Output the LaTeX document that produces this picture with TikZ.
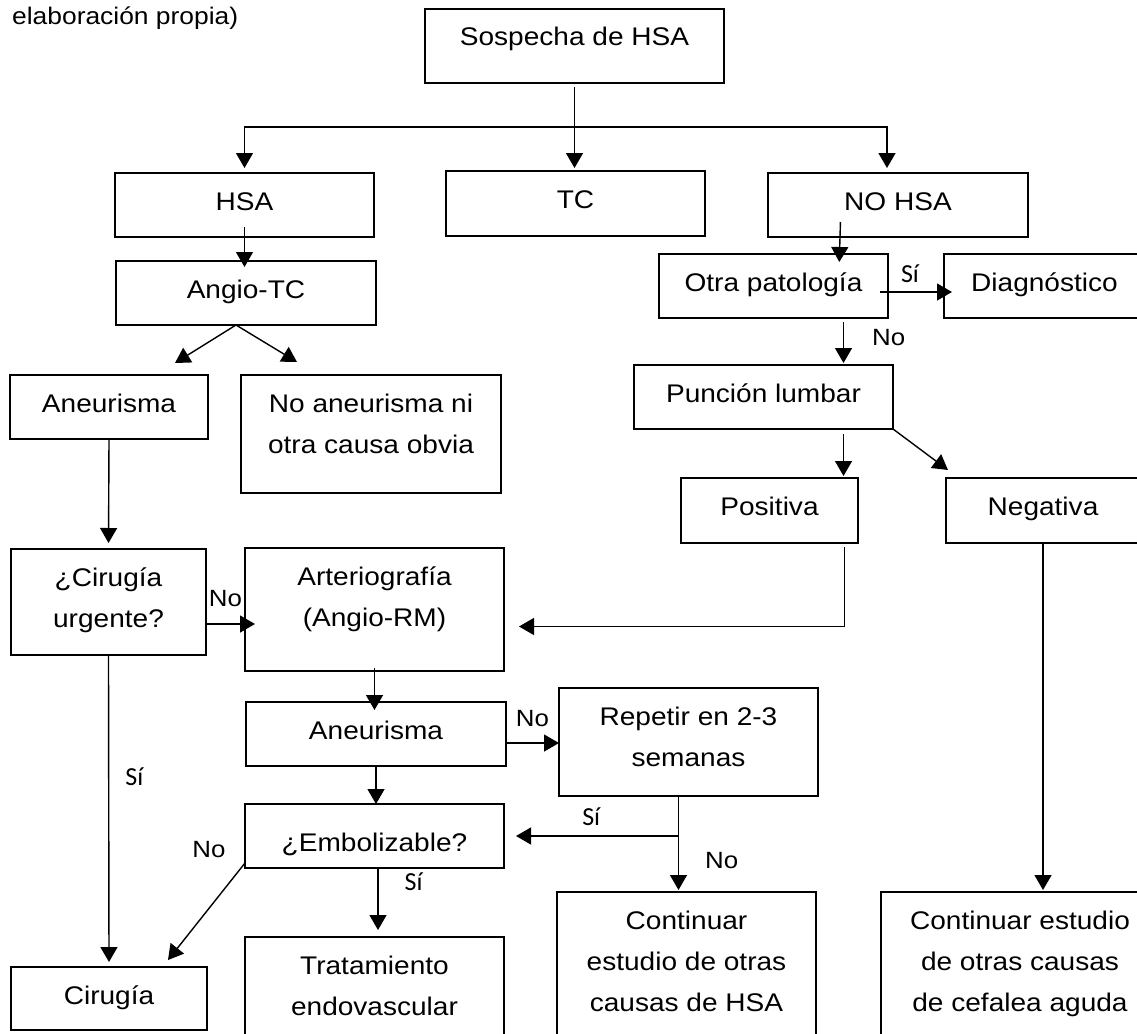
\documentclass[tikz,border=0pt]{standalone}
\usepackage{fontspec}
\setmainfont{Liberation Sans}[FakeStretch=1.1]
\newfontfamily\carlito{Carlito}
\usepackage{tikz}
\usetikzlibrary{shapes,arrows.meta,positioning}
\newcommand{\caja}[3]{\parbox[c][#2pt][t]{#1pt}{\centering\rule{0pt}{37pt}#3}}
\tikzstyle{box} = [draw, line width=2.4pt, inner sep=0pt, outer sep=0pt, anchor=north west, font=\fontsize{25.5}{41}\selectfont]
\tikzstyle{line} = [draw, line width=1.4pt]
\tikzstyle{arrow} = [line, -{Triangle[length=15pt, width=17pt]}]
\tikzstyle{lno} = [inner sep=0pt, font=\fontsize{23.5}{28}\selectfont]
\tikzstyle{lsi} = [inner sep=0pt, font=\carlito\fontsize{26}{28}\selectfont]

\begin{document}
\begin{tikzpicture}[x=1pt, y=-1pt]
	\useasboundingbox (0, 0) rectangle (1137, 1033);
	\clip (0, 0) rectangle (1137, 1033);

	\node [anchor=base west, inner sep=0pt, font=\fontsize{24}{28}\selectfont] (caption) at (12, 25) {elaboración propia)};

	\node [box] (sospecha) at (425, 9) {\caja{299}{74}{Sospecha de HSA}};
	\node [box] (hsa) at (115, 173) {\caja{259}{64}{HSA}};
	\node [box] (tc) at (446, 171) {\caja{259}{65}{TC}};
	\node [box] (nohsa) at (768, 173) {\caja{260}{64}{NO HSA}};
	\node [box] (angio) at (116, 261) {\caja{260}{64}{Angio-TC}};
	\node [box] (otra) at (659, 254) {\caja{229}{64}{Otra patología}};
	\node [box] (diag) at (944, 254) {\caja{201}{64}{Diagnóstico}};
	\node [box] (puncion) at (634, 365) {\caja{259}{64}{Punción lumbar}};
	\node [box] (aneu1) at (10, 375) {\caja{198}{64}{Aneurisma}};
	\node [box] (noaneu) at (241, 375) {\caja{260}{118}{No aneurisma ni\\otra causa obvia}};
	\node [box] (positiva) at (681, 478) {\caja{177}{65}{Positiva}};
	\node [box] (negativa) at (946, 478) {\caja{194}{65}{Negativa}};
	\node [box] (cirurgente) at (11, 549) {\caja{195}{106}{¿Cirugía\\urgente?}};
	\node [box] (arteri) at (245, 548) {\caja{259}{123}{Arteriografía\\(Angio-RM)}};
	\node [box] (aneu2) at (246, 702) {\caja{260}{64}{Aneurisma}};
	\node [box] (repetir) at (559, 688) {\caja{259}{108}{Repetir en 2-3\\semanas}};
	\node [box] (embol) at (245, 804) {\caja{259}{64}{\rule{0pt}{47pt}¿Embolizable?}};
	\node [box] (cirugia) at (11, 967) {\caja{196}{63}{Cirugía}};
	\node [box] (trat) at (245, 937) {\caja{259}{130}{Tratamiento\\endovascular}};
	\node [box] (conthsa) at (557, 892) {\caja{259}{160}{Continuar\\estudio de otras\\causas de HSA}};
	\node [box] (contcef) at (881, 892) {\caja{278}{160}{Continuar estudio\\de otras causas\\de cefalea aguda}};

	\coordinate (fork) at (574.5, 127);
	\coordinate (repfork) at (678.5, 836);

	% primer reparto
	\path [arrow, shorten <=4pt, shorten >=3pt] (sospecha.south) -- (sospecha.south |- tc.north);
	\path [arrow, shorten >=5pt] (fork) -| (hsa.north);
	\path [arrow, shorten >=5pt] (fork) -| ([xshift=-11pt]nohsa.north);

	% rama NO HSA
	\path [arrow, shorten <=-15pt, shorten >=-8pt] ([xshift=-58pt]nohsa.south) -- ([xshift=66pt]otra.north);
	\path [arrow, shorten <=-8pt, shorten >=-8pt] ([yshift=-6pt]otra.east) -- ([yshift=-6pt]diag.west) node [lsi, midway, above=9pt, xshift=-6pt] {Sí};
	\path [arrow, shorten <=4pt, shorten >=2pt] ([xshift=70pt]otra.south) -- ([xshift=80pt]puncion.north) node [lno, midway, right=28pt, yshift=4pt] {No};
	\path [arrow, shorten <=5pt, shorten >=2pt] ([xshift=80pt]puncion.south) -- ([xshift=74pt]positiva.north);
	\path [arrow] (puncion.south east) -- ([xshift=2pt, yshift=8pt]negativa.north west);
	\path [arrow, shorten <=4pt, shorten >=15pt] ([xshift=75pt]positiva.south) |- ([yshift=-17pt]arteri.east);
	\path [arrow, shorten >=2pt] (negativa.south) -- (negativa.south |- contcef.north);

	% rama HSA
	\path [arrow, shorten <=-10pt, shorten >=-6pt] (hsa.south) -- (hsa.south |- angio.north);
	\path [arrow] ([xshift=-10pt]angio.south) -- ([xshift=66pt, yshift=12pt]aneu1.north);
	\path [arrow] ([xshift=-10pt]angio.south) -- ([xshift=56pt, yshift=13pt]noaneu.north west);
	\path [arrow, shorten >=6pt] (aneu1.south) -- (cirurgente.north);
	\path [arrow, shorten >=-10pt] ([yshift=-22pt]cirurgente.east) -- ([yshift=-14.5pt]arteri.west) node [lno, midway, above=17pt] {No};
	\path [arrow, shorten >=5pt] (cirurgente.south) -- (cirugia.north) node [lsi, pos=0.39, right=16pt] {Sí};
	\path [arrow, shorten <=-3pt, shorten >=-8pt] (arteri.south) -- (arteri.south |- aneu2.north);
	\path [arrow] ([yshift=-9pt]aneu2.east) -- ([yshift=-1pt]repetir.west) node [lno, midway, above=16pt] {No};
	\path [arrow] (aneu2.south) -- (aneu2.south |- embol.north);
	\path [arrow, shorten >=2pt] ([xshift=-10pt]repetir.south) -- ([xshift=-8pt]conthsa.north) node [lno, pos=0.67, right=26pt] {No};
	\path [arrow, shorten >=12pt] (repfork) -- (embol.east) node [lsi, midway, above=10pt] {Sí};
	\path [arrow] ([yshift=5pt]embol.south west) -- ([xshift=59pt, yshift=7pt]cirugia.north) node [lno, pos=0, xshift=-36pt, yshift=13pt] {No};
	\path [arrow, shorten >=7pt] ([xshift=3.5pt]embol.south) -- ([xshift=3.5pt]trat.north) node [lsi, pos=0.2, right=26pt] {Sí};
\end{tikzpicture}
\end{document}
